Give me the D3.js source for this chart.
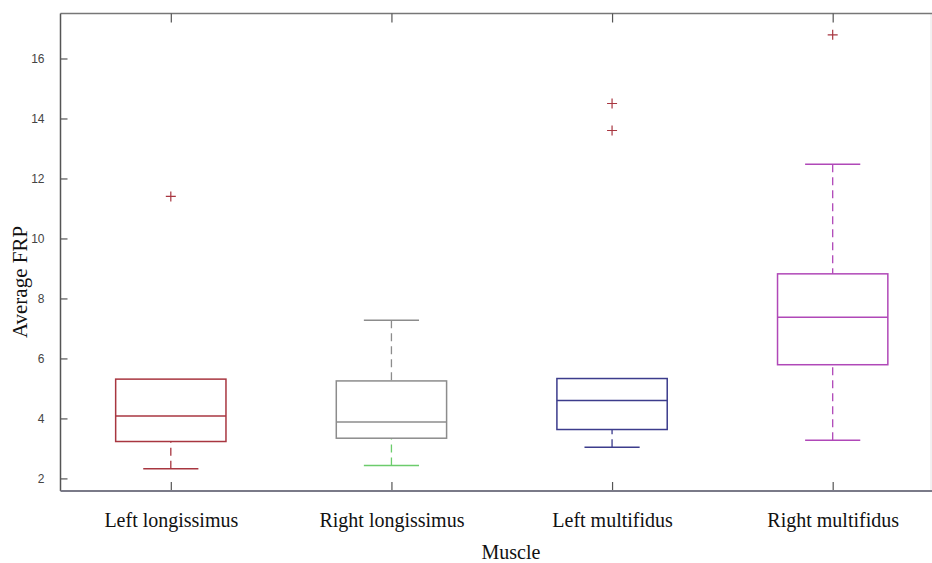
<!DOCTYPE html>
<html>
<head>
<meta charset="utf-8">
<script src="https://cdn.jsdelivr.net/npm/d3@7"></script>
<style>
  html, body { margin: 0; padding: 0; background: #fff; }
  svg { display: block; }
</style>
</head>
<body>
<svg id="chart" width="932" height="563"></svg>
<script>
// ---- data ----
const categories   = ["Left longissimus", "Right longissimus", "Left multifidus", "Right multifidus"];
const q1Values     = [3.23, 3.34, 3.63, 5.79];
const medianValues = [4.08, 3.88, 4.60, 7.37];
const q3Values     = [5.31, 5.25, 5.33, 8.82];
const whiskerLow   = [2.32, 2.43, 3.04, 3.27];
const whiskerHigh  = [5.31, 7.27, 5.33, 12.47];
const outlierValues = [[11.4], [], [14.5, 13.6], [16.79]];
const yTicks = [2, 4, 6, 8, 10, 12, 14, 16];
const xLabel = "Muscle";
const yLabel = "Average FRP";

// ---- styles ----
const boxColors   = ["#a83640", "#8c8c8c", "#3c3c8c", "#b048b8"];
const lowWhiskerColors = ["#a83640", "#6ccc6c", "#3c3c8c", "#b048b8"];
const outlierColor = "#a83640";

const svg = d3.select("#chart");
const pLeft = 60.5, pRight = 943, pTop = 13.5, pBottom = 491;

const x = d3.scaleLinear().domain([0.5, 4.5]).range([pLeft, pRight]);
const y = d3.scaleLinear().domain([1.58, 17.5]).range([pBottom, pTop]);

const data = categories.map((c, i) => ({
  name: c, i: i + 1,
  q1: q1Values[i], med: medianValues[i], q3: q3Values[i],
  lo: whiskerLow[i], hi: whiskerHigh[i], out: outlierValues[i],
  color: boxColors[i], loColor: lowWhiskerColors[i]
}));

// faint right border
svg.append("line").attr("x1", 931).attr("x2", 931).attr("y1", pTop).attr("y2", pBottom)
  .attr("stroke", "#e4e4e4").attr("stroke-width", 1);

// top border
svg.append("line").attr("x1", pLeft).attr("x2", 932).attr("y1", pTop).attr("y2", pTop)
  .attr("stroke", "#777").attr("stroke-width", 1.5);

// y axis
const yAxis = d3.axisLeft(y).tickValues(yTicks).tickSize(-7).tickPadding(16).tickFormat(d3.format("d"));
const yg = svg.append("g").attr("transform", `translate(${pLeft},0)`).call(yAxis);
yg.select(".domain").remove();
yg.selectAll(".tick line").attr("stroke", "#555").attr("stroke-width", 1.2);
yg.selectAll(".tick text").attr("fill", "#444").attr("font-family", "Liberation Sans, Arial, sans-serif").attr("font-size", 12);
svg.append("line").attr("x1", pLeft).attr("x2", pLeft).attr("y1", pTop).attr("y2", pBottom)
  .attr("stroke", "#555").attr("stroke-width", 1.5);

// x axis (bottom)
const xAxis = d3.axisBottom(x).tickValues([1, 2, 3, 4]).tickSize(-9).tickPadding(22)
  .tickFormat(d => categories[d - 1]);
const xg = svg.append("g").attr("transform", `translate(0,${pBottom})`).call(xAxis);
xg.select(".domain").remove();
xg.selectAll(".tick line").attr("stroke", "#555").attr("stroke-width", 1.2);
xg.selectAll(".tick text").attr("fill", "#111").attr("font-family", "Liberation Serif, Times New Roman, serif").attr("font-size", 20);
svg.append("line").attr("x1", pLeft).attr("x2", 932).attr("y1", pBottom).attr("y2", pBottom)
  .attr("stroke", "#7a7a88").attr("stroke-width", 2);

// top ticks
const xTop = d3.axisTop(x).tickValues([1, 2, 3, 4]).tickSize(-9).tickFormat("");
const xtg = svg.append("g").attr("transform", `translate(0,${pTop})`).call(xTop);
xtg.select(".domain").remove();
xtg.selectAll(".tick line").attr("stroke", "#555").attr("stroke-width", 1.2);

// boxes
const boxHalf = 0.25, capHalf = 0.125;
const g = svg.append("g").selectAll("g").data(data).join("g");

// upper whisker
const withUpper = g.filter(d => d.hi > d.q3);
withUpper.append("line")
  .attr("x1", d => x(d.i)).attr("x2", d => x(d.i))
  .attr("y1", d => y(d.hi)).attr("y2", d => y(d.q3))
  .attr("stroke", d => d.color).attr("stroke-width", 1.3).attr("stroke-dasharray", "8,5");
withUpper.append("line")
  .attr("x1", d => x(d.i - capHalf)).attr("x2", d => x(d.i + capHalf))
  .attr("y1", d => y(d.hi)).attr("y2", d => y(d.hi))
  .attr("stroke", d => d.color).attr("stroke-width", 1.5);

// lower whisker
g.append("line")
  .attr("x1", d => x(d.i)).attr("x2", d => x(d.i))
  .attr("y1", d => y(d.lo)).attr("y2", d => y(d.q1))
  .attr("stroke", d => d.loColor).attr("stroke-width", 1.3).attr("stroke-dasharray", "8,5");
g.append("line")
  .attr("x1", d => x(d.i - capHalf)).attr("x2", d => x(d.i + capHalf))
  .attr("y1", d => y(d.lo)).attr("y2", d => y(d.lo))
  .attr("stroke", d => d.loColor).attr("stroke-width", 1.5);

// box
g.append("rect")
  .attr("x", d => x(d.i - boxHalf)).attr("width", d => x(d.i + boxHalf) - x(d.i - boxHalf))
  .attr("y", d => y(d.q3)).attr("height", d => y(d.q1) - y(d.q3))
  .attr("fill", "none").attr("stroke", d => d.color).attr("stroke-width", 1.5);

// median
g.append("line")
  .attr("x1", d => x(d.i - boxHalf)).attr("x2", d => x(d.i + boxHalf))
  .attr("y1", d => y(d.med)).attr("y2", d => y(d.med))
  .attr("stroke", d => d.color).attr("stroke-width", 1.5);

// outliers as "+" markers
g.selectAll("path.out").data(d => d.out.map(v => ({ i: d.i, v }))).join("path")
  .attr("class", "out")
  .attr("d", "M-5,0H5M0,-5V5")
  .attr("transform", d => `translate(${x(d.i)},${y(d.v)})`)
  .attr("stroke", outlierColor).attr("stroke-width", 1.2).attr("fill", "none");

// axis labels
svg.append("text").attr("x", 511).attr("y", 559).attr("text-anchor", "middle")
  .attr("font-family", "Liberation Serif, Times New Roman, serif").attr("font-size", 20).attr("fill", "#111")
  .text(xLabel);
svg.append("text").attr("transform", "translate(27,282) rotate(-90)").attr("text-anchor", "middle")
  .attr("font-family", "Liberation Serif, Times New Roman, serif").attr("font-size", 21).attr("fill", "#111")
  .text(yLabel);
</script>
</body>
</html>
